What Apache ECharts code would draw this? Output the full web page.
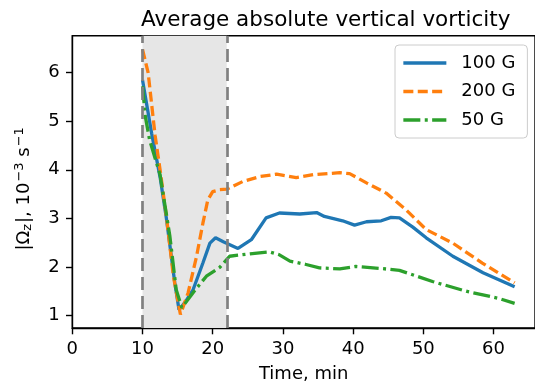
<!DOCTYPE html>
<html>
<head>
<meta charset="utf-8">
<script src="https://cdn.jsdelivr.net/npm/echarts@6/dist/echarts.min.js"></script>
<style>
  html, body { margin: 0; padding: 0; background: #fff; }
  #chart { width: 535px; height: 388px; }
</style>
</head>
<body>
<div id="chart"></div>
<script>
// time (min) and |Omega_z| (1e-3 s^-1)
var t100 = [10, 11.3, 12.5, 13.4, 14.6, 15.2, 16.2, 17.2, 18.6, 19.6, 20.4, 21.5, 23.6, 25.5, 27.6, 29.5, 32.4, 34.8, 35.9, 38.5, 40.2, 41.9, 44.0, 45.4, 46.6, 48.5, 50.4, 54.2, 58.5, 63];
var v100 = [5.85, 4.75, 3.85, 3.0, 1.67, 1.12, 1.3, 1.53, 2.08, 2.49, 2.6, 2.52, 2.38, 2.56, 3.01, 3.11, 3.09, 3.12, 3.04, 2.95, 2.86, 2.93, 2.95, 3.02, 3.01, 2.82, 2.6, 2.22, 1.88, 1.59];

var t200 = [10, 10.8, 11.3, 11.8, 12.5, 13.4, 14.4, 15.4, 16.5, 17.7, 18.6, 19.3, 20.0, 21.0, 22.0, 24.3, 26.7, 29.1, 31.9, 34.3, 38.1, 39.5, 41.9, 44.7, 47.5, 50.4, 54.2, 58.4, 63];
var v200 = [6.48, 6.0, 5.35, 4.7, 4.0, 3.04, 1.81, 1.02, 1.47, 2.22, 2.9, 3.38, 3.55, 3.59, 3.6, 3.76, 3.86, 3.91, 3.84, 3.9, 3.94, 3.92, 3.73, 3.52, 3.18, 2.77, 2.49, 2.08, 1.67];

var t50 = [10, 10.4, 11.0, 12.5, 13.9, 14.8, 15.6, 17.2, 19.1, 21.0, 22.4, 25.3, 28.1, 29.5, 31.0, 33.3, 35.2, 38.1, 40.4, 43.8, 46.6, 51.3, 56.1, 60.8, 63];
var v50 = [5.72, 5.1, 4.62, 3.9, 2.63, 1.53, 1.16, 1.47, 1.81, 1.99, 2.22, 2.27, 2.31, 2.25, 2.12, 2.05, 1.98, 1.96, 2.01, 1.97, 1.93, 1.7, 1.5, 1.35, 1.25];

var xTicks = [0, 10, 20, 30, 40, 50, 60];
var yTicks = [1, 2, 3, 4, 5, 6];
var spanStart = 10, spanEnd = 22;
var lw = 3.3;

function zip(a, b) {
  return a.map(function (x, i) { return [x, b[i]]; });
}

var font = 'DejaVu Sans';
var chart = echarts.init(document.getElementById('chart'), null, { renderer: 'canvas' });

function lineSeries(name, color, t, v, dash) {
  return {
    name: name, type: 'line', symbol: 'none', showSymbol: false, z: 3,
    color: color,
    itemStyle: { color: color },
    lineStyle: { color: color, width: lw, type: dash },
    emphasis: { disabled: true },
    data: zip(t, v)
  };
}

var option = {
  animation: false,
  backgroundColor: '#fff',
  title: {
    text: 'Average absolute vertical vorticity',
    left: 136,
    top: 4,
    textStyle: { fontFamily: font, fontSize: 21.5, fontWeight: 'normal', color: '#000' }
  },
  grid: {
    left: 72.3, top: 35.7, width: 463.4, height: 292.8,
    show: true, borderColor: '#000', borderWidth: 1.4, backgroundColor: 'transparent'
  },
  legend: {
    data: ['100 G', '200 G', '50 G'],
    orient: 'vertical',
    left: 395, top: 45,
    padding: [9, 12, 9, 6.7],
    itemGap: 10.5,
    itemWidth: 43, itemHeight: 18,
    backgroundColor: 'rgba(255,255,255,0.8)',
    borderColor: '#cccccc', borderWidth: 1, borderRadius: 4,
    itemStyle: { color: 'rgba(0,0,0,0)', borderColor: 'rgba(0,0,0,0)', borderWidth: 0 },
    lineStyle: { width: lw },
    textStyle: { fontFamily: font, fontSize: 18, color: '#000', padding: [0, 0, 0, 10] }
  },
  xAxis: {
    type: 'value', min: 0, max: 65.9,
    name: 'Time, min', nameLocation: 'middle', nameGap: 37,
    nameTextStyle: { fontFamily: font, fontSize: 18, color: '#000' },
    splitLine: { show: false },
    axisLine: { show: true, lineStyle: { color: '#000', width: 1.4 } },
    axisTick: { show: true, customValues: xTicks, length: 6.3, lineStyle: { color: '#000', width: 1.4 } },
    axisLabel: { customValues: xTicks, margin: 12.5, fontFamily: font, fontSize: 18, color: '#000' }
  },
  yAxis: {
    type: 'value', min: 0.743, max: 6.76,
    name: '|Ω{sub|z}|, 10{sup|−3} s{sup|−1}', nameLocation: 'middle', nameRotate: 90, nameGap: 37,
    nameTextStyle: {
      fontFamily: font, fontSize: 18, color: '#000', padding: [0, 14, 0, 0],
      rich: {
        sub: { fontFamily: font, fontSize: 13, color: '#000', padding: [6, 1, 0, 0] },
        sup: { fontFamily: font, fontSize: 13, color: '#000', padding: [0, 0, 9, 1] }
      }
    },
    splitLine: { show: false },
    axisLine: { show: true, lineStyle: { color: '#000', width: 1.4 } },
    axisTick: { show: true, customValues: yTicks, length: 6.3, lineStyle: { color: '#000', width: 1.4 } },
    axisLabel: { customValues: yTicks, margin: 12.6, fontFamily: font, fontSize: 18, color: '#000' }
  },
  series: [
    {
      name: 'span', type: 'line', data: [], z: 1, silent: true,
      markArea: {
        silent: true,
        itemStyle: { color: '#e6e6e6' },
        data: [[{ xAxis: spanStart }, { xAxis: spanEnd }]]
      },
      markLine: {
        silent: true, symbol: 'none', label: { show: false },
        lineStyle: { color: '#808080', width: 2.7, type: [13, 6] },
        data: [{ xAxis: spanStart }, { xAxis: spanEnd }]
      }
    },
    lineSeries('100 G', '#1f77b4', t100, v100, 'solid'),
    lineSeries('200 G', '#ff7f0e', t200, v200, [10, 4.4]),
    lineSeries('50 G', '#2ca02c', t50, v50, [17, 4.4, 3, 4.4])
  ]
};

chart.setOption(option);
</script>
</body>
</html>
